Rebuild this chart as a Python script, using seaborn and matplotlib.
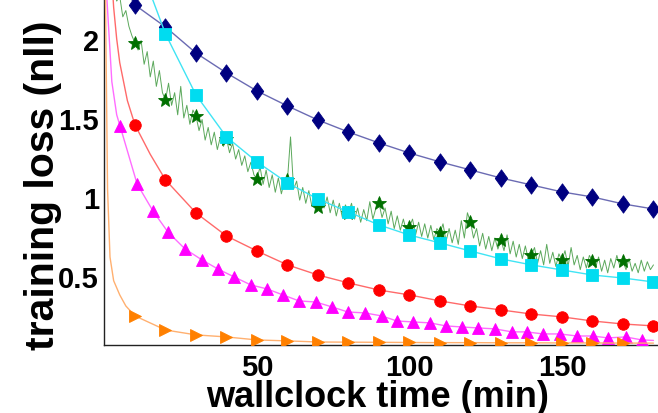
import matplotlib
matplotlib.use("Agg")
import matplotlib.pyplot as plt
import seaborn as sns
import pandas as pd

# ---- data: training loss (nll) vs wallclock time (min) ----
# navy diamonds
navy_line_t = [5, 8]
navy_line_loss = [2.36, 2.28]
navy_t = [10, 20, 30, 40, 50, 60, 70, 80, 90, 100, 110, 120, 130, 140, 150, 160, 170, 180]
navy_loss = [2.215, 2.076, 1.911, 1.785, 1.671, 1.576, 1.487, 1.411, 1.342, 1.278,
             1.222, 1.171, 1.120, 1.076, 1.032, 1.000, 0.956, 0.924]

# cyan squares
cyan_line_t = [15]
cyan_line_loss = [2.29]
cyan_t = [20, 30, 40, 50, 60, 70, 80, 90, 100, 110, 120, 130, 140, 150, 160, 170, 180]
cyan_loss = [2.032, 1.646, 1.380, 1.222, 1.089, 0.987, 0.905, 0.823, 0.759, 0.709,
             0.658, 0.608, 0.570, 0.538, 0.506, 0.487, 0.462]

# green stars on a noisy per-minute trace (t = 3 ... 180)
green_start = 3
green_loss = [
    2.32, 2.24, 2.27, 2.14, 2.18, 2.08, 2.02, 1.975,
    1.93, 1.99, 1.84, 1.92, 1.76, 1.86, 1.70, 1.80, 1.66, 1.614,
    1.72, 1.58, 1.66, 1.52, 1.70, 1.50, 1.58, 1.46, 1.55, 1.513,
    1.42, 1.49, 1.36, 1.44, 1.33, 1.41, 1.30, 1.38, 1.32, 1.37,
    1.28, 1.34, 1.24, 1.30, 1.20, 1.26, 1.16, 1.22, 1.14, 1.114,
    1.19, 1.08, 1.17, 1.06, 1.14, 1.03, 1.12, 1.02, 1.10, 1.11,
    1.38, 1.05, 1.10, 0.98, 1.06, 0.96, 1.04, 0.94, 1.01, 0.937,
    1.02, 0.93, 1.00, 0.90, 0.98, 0.88, 0.96, 0.87, 0.95, 0.90,
    0.96, 0.86, 0.93, 0.84, 0.92, 0.85, 0.97, 0.86, 0.93, 0.962,
    0.87, 0.93, 0.83, 0.91, 0.80, 0.88, 0.79, 0.86, 0.78, 0.81,
    0.86, 0.76, 0.84, 0.75, 0.83, 0.74, 0.82, 0.73, 0.80, 0.772,
    0.83, 0.72, 0.80, 0.71, 0.79, 0.70, 0.85, 0.74, 0.90, 0.842,
    0.74, 0.80, 0.69, 0.77, 0.67, 0.75, 0.66, 0.74, 0.67, 0.728,
    0.66, 0.76, 0.64, 0.72, 0.62, 0.70, 0.61, 0.69, 0.60, 0.633,
    0.68, 0.58, 0.66, 0.57, 0.70, 0.58, 0.65, 0.56, 0.64, 0.600,
    0.66, 0.56, 0.68, 0.57, 0.63, 0.54, 0.62, 0.55, 0.63, 0.595,
    0.55, 0.62, 0.53, 0.60, 0.52, 0.61, 0.55, 0.63, 0.56, 0.595,
    0.54, 0.61, 0.53, 0.58, 0.52, 0.60, 0.53, 0.59, 0.54, 0.57,
]
green_t = list(range(green_start, green_start + len(green_loss)))
green_star_t = [10, 20, 30, 40, 50, 60, 70, 80, 90, 100, 110, 120, 130, 140, 150, 160, 170]

# red circles
red_line_t = [2.2, 3, 4, 5, 7.5, 15]
red_line_loss = [2.45, 2.2, 2.0, 1.85, 1.61, 1.27]
red_t = [10, 20, 30, 40, 50, 60, 70, 80, 90, 100, 110, 120, 130, 140, 150, 160, 170, 180]
red_loss = [1.456, 1.108, 0.899, 0.753, 0.658, 0.570, 0.506, 0.456, 0.411, 0.380,
            0.342, 0.310, 0.285, 0.259, 0.241, 0.215, 0.196, 0.184]

# magenta triangles
magenta_line_t = [0.5, 0.8, 2.4, 4.0, 180]
magenta_line_loss = [2.40, 2.25, 1.73, 1.52, 0.092]
magenta_t = [5.1, 10.7, 15.9, 20.8, 26.4, 32.0, 37.2, 42.5, 48.0, 53.3, 58.5, 63.8,
             69.3, 74.6, 79.8, 85.4, 90.9, 95.9, 101.1, 106.7, 111.9, 117.2, 122.4,
             128.0, 133.6, 138.4, 143.8, 149.3, 154.9, 160.1, 165.0, 170.9, 176.2]
magenta_loss = [1.449, 1.082, 0.911, 0.778, 0.671, 0.601, 0.544, 0.494, 0.443, 0.418,
                0.380, 0.342, 0.335, 0.304, 0.272, 0.266, 0.247, 0.215, 0.209, 0.203,
                0.184, 0.177, 0.171, 0.165, 0.146, 0.146, 0.133, 0.133, 0.120, 0.120,
                0.108, 0.114, 0.095]

# orange right-pointing triangles
orange_line_t = [0.3, 1.0, 1.8, 3, 5, 7, 180]
orange_line_loss = [2.3, 1.05, 0.62, 0.47, 0.38, 0.31, 0.075]
orange_t = [10, 20, 30, 40, 50, 60, 70, 80, 90, 100, 110, 120, 130, 140, 150, 160, 170]
orange_loss = [0.247, 0.158, 0.127, 0.114, 0.095, 0.089, 0.082, 0.081, 0.080, 0.079,
               0.078, 0.078, 0.077, 0.077, 0.076, 0.076, 0.075]

# ---- style ----
sns.set_style("white")
plt.rcParams["font.family"] = ["Liberation Sans", "DejaVu Sans"]
plt.rcParams["font.weight"] = "bold"
plt.rcParams["text.color"] = "black"
plt.rcParams["axes.labelcolor"] = "black"

fig = plt.figure(figsize=(6.58, 4.14), dpi=100)
ax = fig.add_axes([104.5 / 658, 68 / 414, 552 / 658, 346 / 414])

# taller-than-wide diamond marker
diamond = [(-0.72, 0.0), (0.0, 1.0), (0.72, 0.0), (0.0, -1.0), (-0.72, 0.0)]


def curve(line_t, line_loss, mark_t, mark_loss, line_color, mark_color, marker, ms,
          lw=1.0, alpha=1.0, join=True, z=2):
    if join:
        df = pd.DataFrame({"t": list(line_t) + list(mark_t),
                           "loss": list(line_loss) + list(mark_loss)}).sort_values("t")
    else:
        df = pd.DataFrame({"t": list(line_t), "loss": list(line_loss)})
    sns.lineplot(data=df, x="t", y="loss", ax=ax, color=line_color, lw=lw,
                 alpha=alpha, estimator=None, sort=False, zorder=z)
    mk = pd.DataFrame({"t": mark_t, "loss": mark_loss})
    sns.lineplot(data=mk, x="t", y="loss", ax=ax, linestyle="none", marker=marker,
                 ms=ms, mfc=mark_color, mec=mark_color, mew=0.6,
                 estimator=None, sort=False, zorder=z + 0.5)


curve(navy_line_t, navy_line_loss, navy_t, navy_loss, "#6b6bb3", "#000080", diamond, 12.5, z=2)
curve(red_line_t, red_line_loss, red_t, red_loss, "#ff6a6a", "#ff0000", "o", 8.3, z=3)
curve(magenta_line_t, magenta_line_loss, magenta_t, magenta_loss, "#ff6cff", "#ff00ff", "^", 8.6, z=4)
curve(orange_line_t, orange_line_loss, orange_t, orange_loss, "#ffb070", "#ff8000", ">", 8.6, z=5)

# noisy green trace with stars sitting on it
green_df = pd.DataFrame({"t": green_t, "loss": green_loss})
star_loss = [green_loss[green_t.index(t)] for t in green_star_t]
curve(green_df["t"], green_df["loss"], green_star_t, star_loss, "#4a9f4a", "#007000", "*",
      10.5, lw=0.7, alpha=0.9, join=False, z=6)

curve(cyan_line_t, cyan_line_loss, cyan_t, cyan_loss, "#40e4f4", "#00dcf0", "s", 8.0, z=7)

ax.set_xlim(0, 181)
ax.set_ylim(0.063, 2.253)
ax.set_xticks([50, 100, 150])
ax.set_yticks([0.5, 1, 1.5, 2])
ax.set_yticklabels(["0.5", "1", "1.5", "2"])

for s in ("top", "right"):
    ax.spines[s].set_visible(False)
for s in ("left", "bottom"):
    ax.spines[s].set_color("#222222")
    ax.spines[s].set_linewidth(1.0)

ax.tick_params(axis="both", direction="out", length=3, width=0.8, color="#222222",
               labelsize=21, labelcolor="black")
ax.tick_params(axis="x", pad=3)
ax.tick_params(axis="y", pad=1)
for lab in ax.get_xticklabels() + ax.get_yticklabels():
    lab.set_fontweight("bold")

ax.set_xlabel("wallclock time (min)", fontsize=26, fontweight="bold", color="black")
ax.set_ylabel("training loss (nll)", fontsize=29.5, fontweight="bold", color="black")
ax.xaxis.set_label_coords(0.4955, -0.097)
ax.yaxis.set_label_coords(-0.077, 0.465)

fig.savefig("out.png", dpi=100)
